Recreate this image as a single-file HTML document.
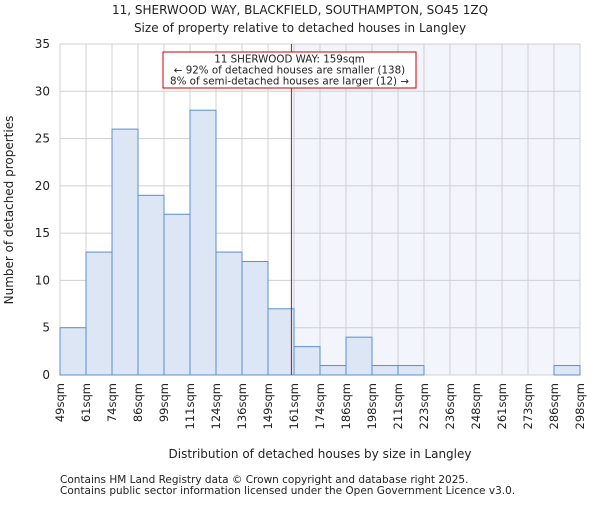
<!DOCTYPE html>
<html><head><meta charset="utf-8"><style>
body{margin:0;background:#fff}
svg text{font-family:"DejaVu Sans","Liberation Sans",sans-serif;fill:#222}
</style></head><body>
<svg id="c" width="600" height="500" xmlns="http://www.w3.org/2000/svg">
<text x="300" y="14" font-size="12" text-anchor="middle">11, SHERWOOD WAY, BLACKFIELD, SOUTHAMPTON, SO45 1ZQ</text>
<text x="300" y="32" font-size="12" text-anchor="middle">Size of property relative to detached houses in Langley</text>
<g id="grid"></g><g id="bars"></g><g id="axes"></g>
<text x="320" y="458" font-size="12" text-anchor="middle">Distribution of detached houses by size in Langley</text>
<text transform="translate(13,210) rotate(-90)" font-size="12" text-anchor="middle">Number of detached properties</text>
<text x="60" y="483" font-size="10.5" fill="#444">Contains HM Land Registry data © Crown copyright and database right 2025.</text>
<text x="60" y="494" font-size="10.5" fill="#444">Contains public sector information licensed under the Open Government Licence v3.0.</text>
</svg>
<script>
const binLabels=["49sqm","61sqm","74sqm","86sqm","99sqm","111sqm","124sqm","136sqm","149sqm","161sqm","174sqm","186sqm","198sqm","211sqm","223sqm","236sqm","248sqm","261sqm","273sqm","286sqm","298sqm"];
const counts=[5,13,26,19,17,28,13,12,7,3,1,4,1,1,0,0,0,0,0,1];
const yTicks=[0,5,10,15,20,25,30,35];
const markerIndex=8.9;
const NS="http://www.w3.org/2000/svg";
const X0=60,X1=580,Y0=375,Y1=44,YMAX=35;
const bw=(X1-X0)/counts.length;
const xs=i=>X0+i*bw;
const ys=v=>Y0-v/YMAX*(Y0-Y1);
function mk(p,t,a){const e=document.createElementNS(NS,t);for(const k in a)e.setAttribute(k,a[k]);p.appendChild(e);return e;}
const grid=document.getElementById('grid'),bars=document.getElementById('bars'),axes=document.getElementById('axes');
const mx=xs(markerIndex);
const sh=mk(grid,'rect',{x:mx,y:Y1,width:X1-mx,height:Y0-Y1,fill:'#f3f5fc'});


binLabels.forEach((l,i)=>{
 const g=mk(grid,'line',{x1:xs(i),x2:xs(i),y1:Y1,y2:Y0,stroke:'#d0d0d0','stroke-width':1});
 
 
 const t=mk(axes,'text',{'font-size':11.5,'text-anchor':'end',transform:`translate(${xs(i)+4},${Y0+8}) rotate(-90)`});
 t.textContent=l;
 
 
});
yTicks.forEach(v=>{
 const g=mk(grid,'line',{x1:X0,x2:X1,y1:ys(v),y2:ys(v),stroke:'#d0d0d0','stroke-width':1});
 
 
 const t=mk(axes,'text',{x:X0-10,y:ys(v)+4,'font-size':12,'text-anchor':'end'});
 t.textContent=v;
 
 
});
counts.forEach((c,i)=>{
 if(c<=0)return;
 const r=mk(bars,'rect',{x:xs(i),y:ys(c),width:bw,height:Y0-ys(c),fill:'#dce6f5',stroke:'#5b8fd0','stroke-width':1});
 
 
});
const ln=mk(axes,'line',{x1:mx,x2:mx,y1:Y1,y2:Y0,stroke:'#dd0000','stroke-width':1});


const box=mk(axes,'rect',{x:163,y:52,width:253,height:36,fill:'#fff',stroke:'#cc0000','stroke-width':1});


["11 SHERWOOD WAY: 159sqm","← 92% of detached houses are smaller (138)","8% of semi-detached houses are larger (12) →"].forEach((s,i)=>{
 const t=mk(axes,'text',{x:289.5,y:62.5+i*11,'font-size':10.3,'text-anchor':'middle'});
 t.textContent=s;
 
 
});
</script>
</body></html>
